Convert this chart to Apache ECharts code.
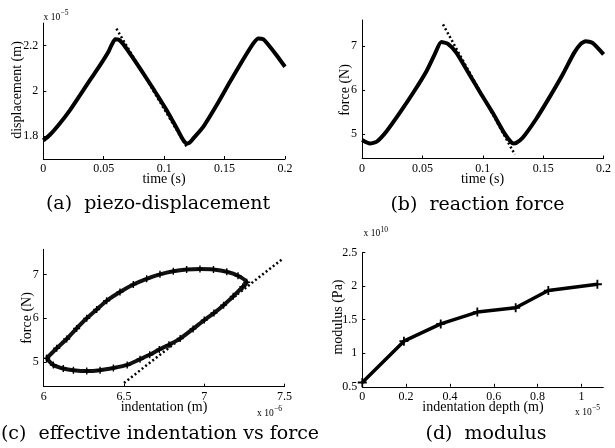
<!DOCTYPE html>
<html>
<head>
<meta charset="utf-8">
<script src="https://cdn.jsdelivr.net/npm/echarts@6/dist/echarts.min.js"></script>
<style>
  html, body { margin: 0; padding: 0; background: #fff; }
  #chart { width: 615px; height: 448px; }
</style>
</head>
<body>
<div id="chart"></div>
<script>
// (a) piezo-displacement, values in 1e-5 m
const dispTime = [0, 0.0055, 0.0138, 0.0221, 0.0304, 0.0386, 0.047, 0.0538, 0.0565, 0.0595, 0.0625, 0.066, 0.069, 0.075, 0.08, 0.091, 0.0966, 0.102, 0.106, 0.111, 0.1145, 0.117, 0.1185, 0.121, 0.124, 0.1325, 0.1435, 0.1545, 0.1655, 0.1738, 0.178, 0.182, 0.185, 0.193, 0.2];
const dispValue = [1.782, 1.807, 1.858, 1.916, 1.982, 2.048, 2.114, 2.172, 2.203, 2.228, 2.226, 2.208, 2.186, 2.14, 2.1, 2.01, 1.962, 1.916, 1.878, 1.83, 1.795, 1.775, 1.768, 1.772, 1.79, 1.843, 1.938, 2.041, 2.14, 2.21, 2.232, 2.228, 2.212, 2.158, 2.107];
const dispFitTime = [0.0605, 0.1185];
const dispFitValue = [2.275, 1.755];

// (b) reaction force
const forceTime = [0, 0.0065, 0.012, 0.0203, 0.0313, 0.0423, 0.0533, 0.0601, 0.0656, 0.0711, 0.078, 0.089, 0.0973, 0.1083, 0.1179, 0.1234, 0.1255, 0.1275, 0.133, 0.144, 0.155, 0.166, 0.1757, 0.1811, 0.1853, 0.1908, 0.2];
const forceValue = [4.87, 4.79, 4.83, 5.07, 5.49, 5.94, 6.43, 6.81, 7.09, 7.05, 6.85, 6.35, 5.97, 5.48, 5.02, 4.82, 4.79, 4.8, 4.92, 5.34, 5.83, 6.35, 6.85, 7.05, 7.11, 7.07, 6.81];
const forceFitTime = [0.067, 0.1265];
const forceFitValue = [7.49, 4.54];

// (c) indentation (1e-6 m) vs force loop: loading branch, then unloading branch
const loopIndent = [6.018, 6.081, 6.143, 6.205, 6.268, 6.33, 6.392, 6.475, 6.558, 6.641, 6.724, 6.807, 6.89, 6.973, 7.057, 7.14, 7.21, 7.264,
  7.24, 7.18, 7.12, 7.06, 7.0, 6.93, 6.85, 6.78, 6.72, 6.66, 6.6, 6.52, 6.434, 6.351, 6.268, 6.185, 6.122, 6.06, 6.018];
const loopForce = [5.09, 5.32, 5.53, 5.77, 6.0, 6.2, 6.4, 6.6, 6.77, 6.9, 7.0, 7.07, 7.11, 7.12, 7.11, 7.06, 6.97, 6.82,
  6.72, 6.5, 6.3, 6.12, 5.96, 5.76, 5.54, 5.4, 5.29, 5.17, 5.07, 4.94, 4.87, 4.82, 4.8, 4.82, 4.86, 4.94, 5.09];
const loopFitIndent = [6.5, 7.49];
const loopFitForce = [4.53, 7.36];

// (d) modulus (1e10 Pa) vs indentation depth (1e-5 m)
const depth = [0, 0.19, 0.358, 0.525, 0.7, 0.849, 1.073];
const modulus = [0.564, 1.18, 1.436, 1.613, 1.677, 1.933, 2.027];

// tick values
const timeTicks = [0, 0.05, 0.1, 0.15, 0.2];
const dispTicks = [1.8, 2, 2.2];
const forceTicks = [5, 6, 7];
const indentTicks = [6, 6.5, 7, 7.5];
const depthTicks = [0, 0.2, 0.4, 0.6, 0.8, 1];
const modulusTicks = [0.5, 1, 1.5, 2, 2.5];

const zip = (xs, ys) => xs.map((x, i) => [x, ys[i]]);
const plus = 'path://M4,0H6V4H10V6H6V10H4V6H0V4H4Z';
const serif = '"Liberation Serif", "Times New Roman", serif';

function axis(gridIndex, min, max, ticks, isX) {
  return {
    type: 'value', gridIndex, min, max,
    splitLine: { show: false },
    axisLine: { show: true, onZero: false, lineStyle: { color: '#000', width: 1 } },
    axisTick: { show: true, inside: true, length: 3, customValues: ticks, lineStyle: { color: '#000' } },
    axisLabel: {
      customValues: ticks, color: '#000', fontFamily: serif, fontSize: 12,
      margin: isX ? 4 : 5, formatter: v => String(v)
    }
  };
}

function curve(i, data, width) {
  return {
    type: 'line', xAxisIndex: i, yAxisIndex: i, data, smooth: 0.2,
    showSymbol: false, lineStyle: { color: '#000', width }, z: 3
  };
}

function fit(i, data) {
  return {
    type: 'line', xAxisIndex: i, yAxisIndex: i, data, showSymbol: false,
    lineStyle: { color: '#000', width: 2.5, type: [2, 2.5] }, z: 2
  };
}

function label(text, x, y, size, opts) {
  return Object.assign({
    type: 'text', x, y,
    style: { text, fill: '#000', font: size + 'px ' + serif, align: 'center', verticalAlign: 'middle' }
  }, opts || {});
}

function caption(text, x, y) {
  return {
    type: 'text', x, y,
    style: { text, fill: '#000', font: '19px "DejaVu Serif", serif', align: 'center', verticalAlign: 'middle' }
  };
}

function sci(base, sup, x, y, bx, by) {
  return [
    { type: 'text', x, y, style: { text: base, fill: '#000', font: '9.5px ' + serif, align: 'left', verticalAlign: 'middle' } },
    { type: 'text', x: bx, y: by, style: { text: sup, fill: '#000', font: '7.5px ' + serif, align: 'left', verticalAlign: 'middle' } }
  ];
}

const chart = echarts.init(document.getElementById('chart'));

const option = {
  animation: false,
  backgroundColor: '#fff',
  grid: [
    { left: 43.3, top: 23, width: 241.7, height: 136 },
    { left: 362.1, top: 20, width: 241.5, height: 138.5 },
    { left: 43.7, top: 249.3, width: 240.9, height: 137.4 },
    { left: 362.3, top: 252.5, width: 241, height: 134.3 }
  ],
  xAxis: [
    axis(0, 0, 0.2, timeTicks, true),
    axis(1, 0, 0.2, timeTicks, true),
    axis(2, 6, 7.5, indentTicks, true),
    axis(3, 0, 1.1, depthTicks, true)
  ],
  yAxis: [
    axis(0, 1.7, 2.3, dispTicks, false),
    axis(1, 4.45, 7.59, forceTicks, false),
    axis(2, 4.445, 7.57, forceTicks, false),
    axis(3, 0.5, 2.5, modulusTicks, false)
  ],
  series: [
    curve(0, zip(dispTime, dispValue), 4),
    fit(0, zip(dispFitTime, dispFitValue)),
    curve(1, zip(forceTime, forceValue), 4),
    fit(1, zip(forceFitTime, forceFitValue)),
    {
      type: 'line', xAxisIndex: 2, yAxisIndex: 2, data: zip(loopIndent, loopForce), smooth: 0.25,
      symbol: plus, symbolSize: 7, showSymbol: true,
      itemStyle: { color: '#000' }, lineStyle: { color: '#111', width: 4 }, z: 3
    },
    fit(2, zip(loopFitIndent, loopFitForce)),
    {
      type: 'line', xAxisIndex: 3, yAxisIndex: 3, data: zip(depth, modulus),
      symbol: plus, symbolSize: 9, showSymbol: true,
      itemStyle: { color: '#000' }, lineStyle: { color: '#000', width: 3.5 }, z: 3
    }
  ],
  graphic: [
    label('displacement (m)', 17, 90, 14, { rotation: Math.PI / 2 }),
    label('time (s)', 164, 179.5, 14),
    label('force (N)', 345, 90, 14, { rotation: Math.PI / 2 }),
    label('time (s)', 482.5, 179.5, 14),
    label('force (N)', 27.5, 318, 14, { rotation: Math.PI / 2 }),
    label('indentation (m)', 164, 407.5, 14),
    label('modulus (Pa)', 338, 317, 14, { rotation: Math.PI / 2 }),
    label('indentation depth (m)', 483, 407.5, 14),
    ...sci('x 10', '\u22125', 43.5, 17, 60.5, 13),
    ...sci('x 10', '\u22126', 257, 413.5, 274, 409.5),
    ...sci('x 10', '10', 363.5, 233.7, 380.5, 230),
    ...sci('x 10', '\u22125', 575, 412.5, 592, 408.5),
    caption('(a)  piezo-displacement', 158, 204),
    caption('(b)  reaction force', 477.5, 205),
    caption('(c)  effective indentation vs force', 160, 434),
    caption('(d)  modulus', 486, 434)
  ]
};

chart.setOption(option);
</script>
</body>
</html>
